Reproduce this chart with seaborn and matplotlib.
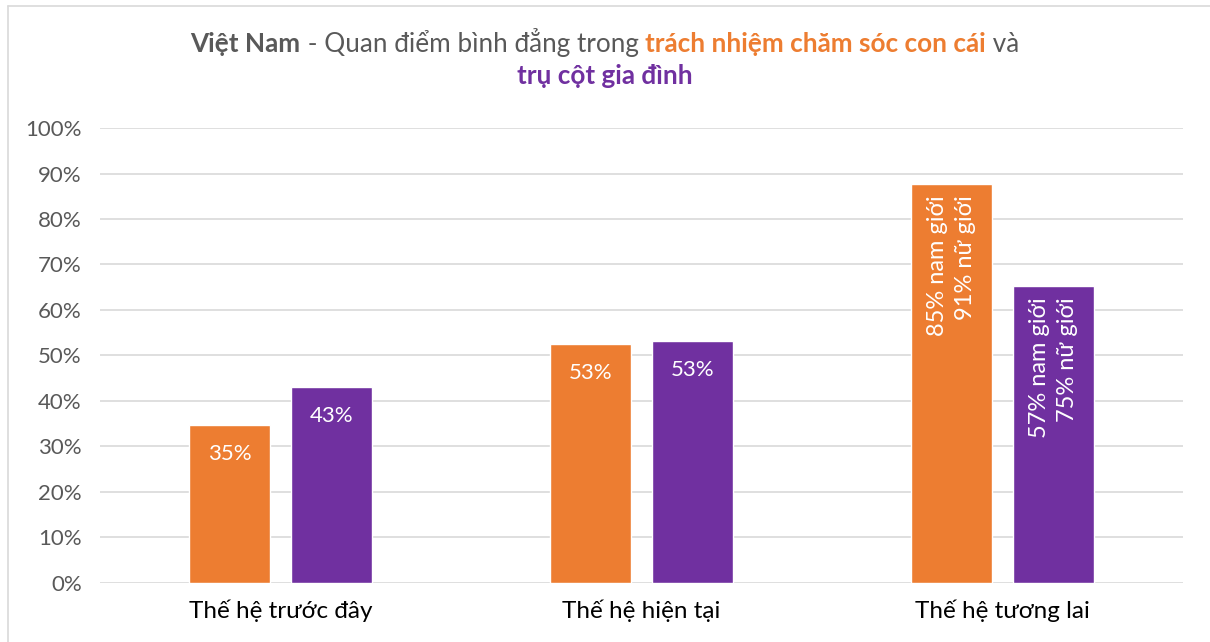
import matplotlib
matplotlib.use("Agg")
import matplotlib.pyplot as plt
import seaborn as sns
import pandas as pd
from matplotlib.lines import Line2D

categories = ["Thế hệ trước đây", "Thế hệ hiện tại", "Thế hệ tương lai"]
series = ["Trách nhiệm chăm sóc con cái", "Trụ cột gia đình"]
care_values = [34.7, 52.5, 87.7]
pillar_values = [43.0, 53.2, 65.3]
care_labels = ["35%", "53%", "85% nam giới\n91% nữ giới"]
pillar_labels = ["43%", "53%", "57% nam giới\n75% nữ giới"]
yticks = [0, 10, 20, 30, 40, 50, 60, 70, 80, 90, 100]

ORANGE = "#ED7D31"
PURPLE = "#7030A0"
GRAY = "#595959"

sns.set_theme(style="white")
plt.rcParams['font.family'] = ['Lato', 'DejaVu Sans']

df = pd.DataFrame({
    "cat": categories * 2,
    "series": [series[0]] * 3 + [series[1]] * 3,
    "val": care_values + pillar_values,
})

fig = plt.figure(figsize=(12.1, 6.42), dpi=100)
ax = fig.add_axes([0.0826, 0.092, 0.895, 0.7086])

sns.barplot(data=df, x="cat", y="val", hue="series", order=categories,
            hue_order=series, palette=[ORANGE, PURPLE], width=0.565,
            gap=0.2, ax=ax, legend=False, saturation=1)

ax.set_ylim(0, 100)
ax.set_yticks(yticks)
ax.set_yticklabels([f"{v}%" for v in yticks], color=GRAY, fontsize=16)
ax.tick_params(axis='x', labelsize=17.5, colors="#000000", pad=12, length=0)
ax.tick_params(axis='y', length=0, pad=13)
ax.set_xlabel("")
ax.set_ylabel("")
ax.yaxis.grid(True, color="#D9D9D9", linewidth=1.2)
ax.set_axisbelow(True)
for s in ax.spines.values():
    s.set_visible(False)

containers = ax.containers
for cont, labels in zip(containers, [care_labels, pillar_labels]):
    for bar, lab in zip(cont, labels):
        x = bar.get_x() + bar.get_width() / 2
        top = bar.get_height()
        if "\n" in lab:
            ax.annotate(lab, (x, top), xytext=(0, -8), textcoords="offset points",
                        rotation=90, ha="center", va="top", multialignment="right",
                        color="white", fontsize=17, linespacing=1.4)
        else:
            ax.annotate(lab, (x, top), xytext=(0, -21), textcoords="offset points",
                        ha="center", va="center", color="white", fontsize=16)

fig.add_artist(Line2D([0.0066, 1.0], [0.991, 0.991], transform=fig.transFigure,
                      color="#D9D9D9", linewidth=1.2))
fig.add_artist(Line2D([0.0066, 0.0066], [0.0, 0.991], transform=fig.transFigure,
                      color="#D9D9D9", linewidth=1.2))

fig.canvas.draw()
renderer = fig.canvas.get_renderer()

def colored_line(parts, y, fontsize=18.8):
    texts = []
    for s, c, w in parts:
        t = fig.text(0, y, s, color=c, fontweight=w, fontsize=fontsize,
                     ha="left", va="baseline")
        texts.append(t)
    widths = [t.get_window_extent(renderer).width for t in texts]
    total = sum(widths)
    figw = fig.bbox.width
    x = (figw - total) / 2 / figw
    for t, w in zip(texts, widths):
        t.set_x(x)
        x += w / figw

colored_line([
    ("Việt Nam", GRAY, "bold"),
    (" - Quan điểm bình đẳng trong ", GRAY, "normal"),
    ("trách nhiệm chăm sóc con cái", ORANGE, "bold"),
    (" và", GRAY, "normal"),
], 1 - 52 / 642)
colored_line([
    ("trụ cột gia đình", PURPLE, "bold"),
], 1 - 84 / 642)

fig.savefig("out.png", dpi=100)
